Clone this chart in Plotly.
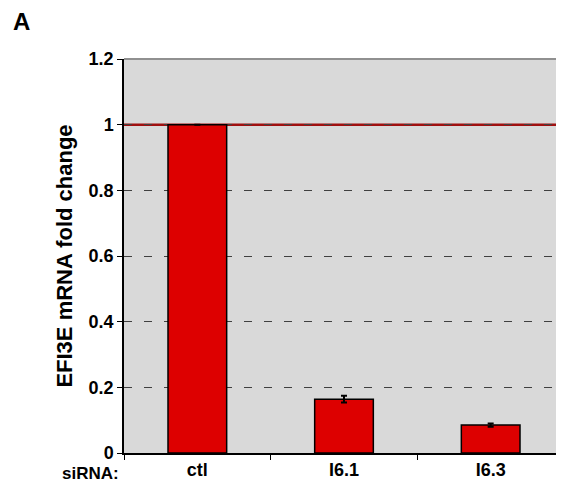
import plotly.graph_objects as go

categories = ["ctl", "I6.1", "I6.3"]
fold_change = [1.0, 0.164, 0.085]
errors = [0.0, 0.010, 0.005]
y_ticks = [0, 0.2, 0.4, 0.6, 0.8, 1, 1.2]

fig = go.Figure()
fig.add_trace(go.Bar(
    x=categories, y=fold_change, width=0.4,
    marker=dict(color="#dd0000", line=dict(color="black", width=1.5)),
    error_y=dict(type="data", array=errors, color="black", thickness=2, width=3),
))

# reference line at 1
fig.add_hline(y=1, line=dict(color="#a01010", width=2.5), layer="below")
# top border
fig.add_shape(type="line", xref="paper", yref="paper", x0=0, x1=1, y0=1, y1=1,
              line=dict(color="#909090", width=2))

# page body has an 8px margin, so the figure is smaller than the window
fig.update_layout(
    width=556, height=475,
    margin=dict(l=116, r=0, t=51, b=30, autoexpand=False),
    paper_bgcolor="white", plot_bgcolor="#d9d9d9",
    showlegend=False,
    font=dict(family="Liberation Sans, Arial", color="black"),
    annotations=[
        dict(text="A", xref="paper", yref="paper", x=-0.232, y=1.094, xanchor="center",
             yanchor="middle", showarrow=False, font=dict(size=24, weight="bold")),
        dict(text="siRNA:", xref="paper", yref="paper", x=-0.006, y=-0.051, xanchor="right",
             yanchor="middle", showarrow=False, font=dict(size=17, weight="bold")),
    ],
)
fig.update_xaxes(
    showline=True, linecolor="black", linewidth=1.5,
    ticks="outside", tickson="boundaries", ticklen=5, tickcolor="black",
    tickfont=dict(size=18, weight="bold"), range=[-0.5, 2.5],
)
fig.update_yaxes(
    range=[0, 1.2], tickvals=y_ticks, ticktext=[str(t) for t in y_ticks],
    showline=True, linecolor="black", linewidth=1.5,
    ticks="outside", ticklen=5, tickcolor="black",
    tickfont=dict(size=18, weight="bold"),
    showgrid=True, gridcolor="#404040", gridwidth=1.2, griddash="8px,12px",
    zeroline=False,
    title=dict(text="EFI3E mRNA fold change", font=dict(size=22, weight="bold"), standoff=10),
)

fig.write_html("out.html")
